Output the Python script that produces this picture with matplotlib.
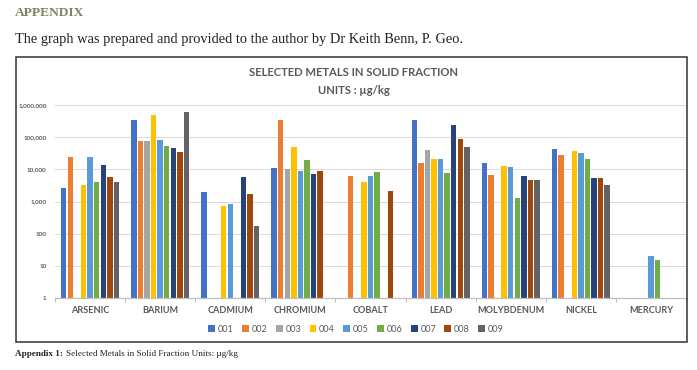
import numpy as np
import matplotlib
matplotlib.use("Agg")
import matplotlib.pyplot as plt
from matplotlib.patches import Rectangle
from matplotlib.ticker import FixedLocator, FuncFormatter, NullFormatter

nan = np.nan
categories = ["ARSENIC", "BARIUM", "CADMIUM", "CHROMIUM", "COBALT",
              "LEAD", "MOLYBDENUM", "NICKEL", "MERCURY"]
series_names = ["001", "002", "003", "004", "005", "006", "007", "008", "009"]
colors = ["#4472C4", "#ED7D31", "#A5A5A5", "#FFC000", "#5B9BD5",
          "#70AD47", "#264478", "#9E480E", "#636363"]

s001 = [2600, 340000, 1960, 11200, nan, 330000, 16000, 42000, nan]
s002 = [24500, 76000, nan, 350000, 6000, 16300, 6800, 28000, nan]
s003 = [nan, 76000, nan, 10000, nan, 41000, nan, nan, nan]
s004 = [3300, 490000, 720, 50000, 3900, 21000, 13000, 38000, nan]
s005 = [24000, 82000, 830, 9000, 6000, 21000, 12000, 33000, 20.4]
s006 = [4000, 52000, nan, 19500, 8000, 7800, 1300, 21000, 15.3]
s007 = [14000, 46000, 5600, 7400, nan, 245000, 6000, 5500, nan]
s008 = [5700, 34000, 1700, 9000, 2150, 88000, 4800, 5500, nan]
s009 = [4100, 620000, 175, nan, nan, 48000, 4700, 3300, nan]
series = [s001, s002, s003, s004, s005, s006, s007, s008, s009]

W, H = 697, 370
fig = plt.figure(figsize=(W / 100, H / 100), dpi=100)
fig.patch.set_facecolor("white")

def fx(px):
    return px / W

def fy(py):
    return 1 - py / H

# Header texts
fig.text(fx(15), fy(13), "APPENDIX", fontsize=9.6, fontweight="bold",
         family="Liberation Serif", color="#7D8462", va="center", ha="left")
fig.text(fx(15), fy(39), "The graph was prepared and provided to the author by Dr Keith Benn, P. Geo.",
         fontsize=10.4, family="Liberation Serif", color="#222222", va="center", ha="left")

# Frame box
fig.patches.append(Rectangle((fx(15.5), fy(342)), fx(687) - fx(15.5), fy(57) - fy(342),
                             transform=fig.transFigure, fill=False,
                             edgecolor="#333333", linewidth=1.1))

# Chart title
fig.text(fx(353.5), fy(73), "SELECTED METALS IN SOLID FRACTION", fontsize=8.1,
         fontweight="bold", family="Lato", color="#595959", ha="center", va="center")
fig.text(fx(353.5), fy(91), "UNITS : \u00b5g/kg", fontsize=8.1,
         fontweight="bold", family="Lato", color="#595959", ha="center", va="center")

# Caption
cap1 = fig.text(fx(15), fy(354), "Appendix 1:", fontsize=6.6, fontweight="bold",
                family="Liberation Serif", color="#222222", ha="left", va="center")
fig.canvas.draw()
bb = cap1.get_window_extent(renderer=fig.canvas.get_renderer())
fig.text(fx(bb.x1 + 3), fy(354), "Selected Metals in Solid Fraction Units: \u00b5g/kg", fontsize=6.6,
         family="Liberation Serif", color="#222222", ha="left", va="center")

ax = fig.add_axes([fx(55), fy(298), fx(686) - fx(55), fy(105) - fy(298)])
n = len(series)
x = np.arange(len(categories))
step = 0.094
bw = step * 0.82
for i, (vals, c, name) in enumerate(zip(series, colors, series_names)):
    offs = (i - (n - 1) / 2) * step
    ax.bar(x + offs, vals, width=bw, color=c, label=name, zorder=3)

ax.set_yscale("log")
ax.set_ylim(1, 1e6)
ax.set_xlim(-0.5, len(categories) - 0.5)
ax.yaxis.set_major_locator(FixedLocator([1, 10, 100, 1000, 1e4, 1e5, 1e6]))
ax.yaxis.set_minor_formatter(NullFormatter())
ax.yaxis.set_minor_locator(FixedLocator([]))
ax.yaxis.set_major_formatter(FuncFormatter(lambda v, p: f"{int(round(v)):,}"))
ax.grid(axis="y", color="#D9D9D9", linewidth=0.7, zorder=0)
for s in ["top", "right", "left"]:
    ax.spines[s].set_visible(False)
ax.spines["bottom"].set_color("#BFBFBF")
ax.spines["bottom"].set_linewidth(0.9)
ax.spines["bottom"].set_zorder(4)

ax.set_xticks(x)
ax.set_xticklabels(categories, fontsize=6.6, fontweight="bold", family="Lato", color="#595959")
ax.set_xticks(np.arange(-0.5, len(categories) + 0.5, 1), minor=True)
ax.tick_params(axis="x", which="major", length=0, pad=6)
ax.tick_params(axis="x", which="minor", length=3, color="#BFBFBF", width=0.8)
ax.tick_params(axis="y", length=0, labelsize=4.6, labelcolor="#595959", pad=6)
for t in ax.get_yticklabels():
    t.set_family("Lato")
    t.set_fontweight("bold")

leg = fig.legend(loc="center", bbox_to_anchor=(fx(356), fy(329)), ncol=9, frameon=False,
                 prop={"family": "Lato", "size": 6.6}, handlelength=0.75, handleheight=0.75,
                 handletextpad=0.3, columnspacing=0.9, borderaxespad=0)
for t in leg.get_texts():
    t.set_color("#595959")

fig.savefig("out.png", dpi=100, facecolor="white")
